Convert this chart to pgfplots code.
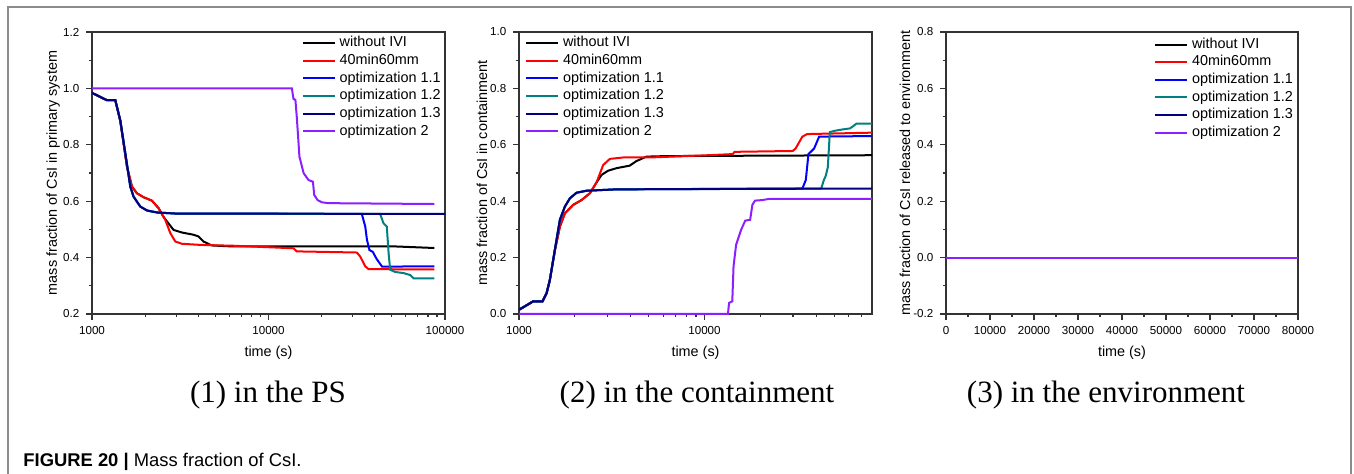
\documentclass[border=0pt]{standalone}
\usepackage{pgfplots}
\pgfplotsset{compat=1.18}
\usepackage{fontspec}
\setmainfont{Liberation Sans}
\newfontfamily\serifcap{Liberation Serif}

\definecolor{cBlack}{RGB}{0,0,0}
\definecolor{cRed}{RGB}{255,0,0}
\definecolor{cBlue}{RGB}{0,0,255}
\definecolor{cTeal}{RGB}{0,128,128}
\definecolor{cNavy}{RGB}{0,0,128}
\definecolor{cViolet}{RGB}{140,30,255}

% ---------- (1) primary system ----------
\pgfplotstableread{
t v
1000 0.984
1216 0.958
1355 0.958
1446 0.885
1578 0.722
1684 0.652
1797 0.628
1961 0.614
2185 0.602
2385 0.575
2520 0.548
2660 0.528
2900 0.498
3230 0.489
3760 0.481
4010 0.475
4280 0.457
4770 0.443
6000 0.440
20000 0.440
50000 0.440
87000 0.434
}\psBlack
\pgfplotstableread{
t v
1000 0.984
1216 0.958
1355 0.958
1446 0.885
1578 0.722
1684 0.652
1797 0.628
1961 0.614
2185 0.602
2385 0.575
2600 0.534
2776 0.487
2964 0.457
3230 0.449
4100 0.445
6340 0.442
9790 0.437
13860 0.433
14460 0.422
31650 0.418
33070 0.404
35330 0.369
36910 0.359
87000 0.358
}\psRed
\pgfplotstableread{
t v
1000 0.984
1216 0.958
1355 0.958
1446 0.887
1544 0.770
1648 0.652
1720 0.616
1877 0.581
2050 0.567
2333 0.560
3000 0.556
33770 0.555
35330 0.510
36130 0.463
37290 0.427
39000 0.420
41000 0.395
44000 0.368
87000 0.369
}\psOptA
\pgfplotstableread{
t v
1000 0.984
1216 0.958
1355 0.958
1446 0.887
1544 0.770
1648 0.652
1720 0.616
1877 0.581
2050 0.567
2333 0.560
3000 0.556
42900 0.555
44800 0.522
46800 0.510
47900 0.416
48900 0.357
52200 0.349
58300 0.345
63600 0.338
66400 0.326
87000 0.326
}\psOptB
\pgfplotstableread{
t v
1000 0.984
1216 0.958
1355 0.958
1446 0.887
1544 0.770
1648 0.652
1720 0.616
1877 0.581
2050 0.567
2333 0.560
3000 0.556
100000 0.555
}\psOptC
\pgfplotstableread{
t v
1000 1.000
13560 1.000
13860 0.962
14200 0.960
14460 0.899
14970 0.758
15820 0.699
16860 0.675
17850 0.669
18160 0.622
18970 0.604
20060 0.596
21900 0.593
87000 0.590
}\psOptD

% ---------- (2) containment ----------
\pgfplotstableread{
t v
1000 0.015
1194 0.045
1340 0.045
1409 0.074
1467 0.121
1561 0.225
1661 0.310
1768 0.357
1960 0.387
2173 0.404
2409 0.428
2615 0.466
2784 0.493
3020 0.508
3351 0.517
3950 0.526
4290 0.542
4860 0.558
6230 0.560
80000 0.563
}\ctBlack
\pgfplotstableread{
t v
1000 0.015
1194 0.045
1340 0.045
1409 0.074
1467 0.121
1561 0.225
1661 0.310
1768 0.357
1960 0.387
2173 0.404
2409 0.428
2615 0.466
2842 0.528
3088 0.550
3639 0.555
5061 0.555
10000 0.5625
14200 0.567
14520 0.575
29900 0.578
31000 0.587
33700 0.629
35800 0.638
80000 0.643
}\ctRed
\pgfplotstableread{
t v
1000 0.015
1194 0.045
1340 0.045
1409 0.074
1467 0.121
1561 0.228
1661 0.334
1768 0.381
1880 0.410
2042 0.430
2311 0.437
3351 0.442
33700 0.445
35170 0.475
36340 0.567
37400 0.575
39000 0.587
41500 0.629
80000 0.631
}\ctOptA
\pgfplotstableread{
t v
1000 0.015
1194 0.045
1340 0.045
1409 0.074
1467 0.121
1561 0.228
1661 0.334
1768 0.381
1880 0.410
2042 0.430
2311 0.437
3351 0.442
42600 0.445
44000 0.475
45000 0.489
46200 0.520
47400 0.645
50700 0.650
55000 0.654
60800 0.658
63000 0.665
65900 0.675
80000 0.675
}\ctOptB
\pgfplotstableread{
t v
1000 0.015
1194 0.045
1340 0.045
1409 0.074
1467 0.121
1561 0.228
1661 0.334
1768 0.381
1880 0.410
2042 0.430
2311 0.437
3351 0.442
80000 0.445
}\ctOptC
\pgfplotstableread{
t v
1000 0.000
13380 0.000
13560 0.039
14120 0.045
14340 0.169
14800 0.245
15740 0.298
16580 0.331
17620 0.334
18120 0.387
18710 0.402
20490 0.404
22270 0.408
80000 0.408
}\ctOptD

% ---------- (3) environment ----------
\pgfplotstableread{
t v
0 0
80000 0
}\envAll

\pgfplotsset{
  csipanel/.style={
    scale only axis, width=176.5pt, height=141pt, anchor=south west,
    clip=false,
    axis line style={black!80, line width=0.6pt},
    tick style={black!80, line width=0.6pt},
    tick align=outside, xtick pos=left, ytick pos=left,
    major tick length=2.8pt, minor tick length=1.7pt,
    tick label style={font=\fontsize{5.8}{6}\selectfont},
    label style={font=\fontsize{7.2}{8}\selectfont},
    every axis plot/.append style={line width=1pt},
    legend cell align=left,
  },
  legend image code/.code={\draw[#1, line width=1pt] (0pt,0pt) -- (16pt,0pt);},
  every axis legend/.append style={draw=none, fill=none, inner sep=0pt,
      row sep=0.9pt, column sep=1.2pt, nodes={inner sep=0.6pt},
      font=\fontsize{7.2}{8}\selectfont},
  /pgf/number format/assume math mode=true,
}

\begin{document}
\begin{tikzpicture}
\useasboundingbox (0pt,0pt) rectangle (677pt,237pt);
\draw[black!45, line width=0.7pt] (4pt,0pt) -- (4pt,233.5pt) -- (675.5pt,233.5pt) -- (675.5pt,0pt);

% (1) in the PS
\begin{axis}[csipanel, at={(46pt,80pt)}, xmode=log, xmin=1000, xmax=100000,
  xtick={1000,10000,100000}, xticklabels={1000,10000,100000},
  minor xtick={2000,3000,4000,5000,6000,7000,8000,9000,20000,30000,40000,50000,60000,70000,80000,90000},
  ymin=0.2, ymax=1.2, ytick={0.2,0.4,0.6,0.8,1.0,1.2}, minor ytick={0.3,0.5,0.7,0.9,1.1},
  yticklabels={0.2,0.4,0.6,0.8,1.0,1.2},
  xlabel={time (s)}, ylabel={mass fraction of CsI in primary system},
  xlabel style={at={(axis description cs:0.5,-0.138)}, anchor=center},
  ylabel style={at={(axis description cs:-0.11,0.5)}, anchor=center},
  legend style={at={(0.594,0.99)}, anchor=north west}]
\addplot[cBlack] table {\psBlack};
\addplot[cRed] table {\psRed};
\addplot[cBlue] table {\psOptA};
\addplot[cTeal] table {\psOptB};
\addplot[cNavy] table {\psOptC};
\addplot[cViolet] table {\psOptD};
\legend{without IVI,40min60mm,optimization 1.1,optimization 1.2,optimization 1.3,optimization 2}
\end{axis}

% (2) in the containment
\begin{axis}[csipanel, at={(259.5pt,80pt)}, xmode=log, xmin=1000, xmax=80000,
  xtick={1000,10000}, xticklabels={1000,10000},
  minor xtick={2000,3000,4000,5000,6000,7000,8000,9000,20000,30000,40000,50000,60000,70000},
  ymin=0, ymax=1.0, ytick={0,0.2,0.4,0.6,0.8,1.0}, minor ytick={0.1,0.3,0.5,0.7,0.9},
  yticklabels={0.0,0.2,0.4,0.6,0.8,1.0},
  xlabel={time (s)}, ylabel={mass fraction of CsI in containment},
  xlabel style={at={(axis description cs:0.5,-0.138)}, anchor=center},
  ylabel style={at={(axis description cs:-0.105,0.5)}, anchor=center},
  legend style={at={(0.017,0.99)}, anchor=north west}]
\addplot[cBlack] table {\ctBlack};
\addplot[cRed] table {\ctRed};
\addplot[cBlue] table {\ctOptA};
\addplot[cTeal] table {\ctOptB};
\addplot[cNavy] table {\ctOptC};
\addplot[cViolet] table {\ctOptD};
\legend{without IVI,40min60mm,optimization 1.1,optimization 1.2,optimization 1.3,optimization 2}
\end{axis}

% (3) in the environment
\begin{axis}[csipanel, at={(473pt,80pt)}, width=176pt,
  xmin=0, xmax=80000, xtick={0,10000,20000,30000,40000,50000,60000,70000,80000},
  xticklabels={0,10000,20000,30000,40000,50000,60000,70000,80000},
  scaled x ticks=false,
  minor xtick={5000,15000,25000,35000,45000,55000,65000,75000},
  ymin=-0.2, ymax=0.8, ytick={-0.2,0,0.2,0.4,0.6,0.8}, minor ytick={-0.1,0.1,0.3,0.5,0.7},
  yticklabels={-0.2,0.0,0.2,0.4,0.6,0.8},
  xlabel={time (s)}, ylabel={mass fraction of CsI released to environment},
  xlabel style={at={(axis description cs:0.5,-0.138)}, anchor=center},
  ylabel style={at={(axis description cs:-0.1165,0.5)}, anchor=center},
  legend style={at={(0.591,0.985)}, anchor=north west}]
\addplot[cBlack] table {\envAll};
\addplot[cRed] table {\envAll};
\addplot[cBlue] table {\envAll};
\addplot[cTeal] table {\envAll};
\addplot[cNavy] table {\envAll};
\addplot[cViolet] table {\envAll};
\legend{without IVI,40min60mm,optimization 1.1,optimization 1.2,optimization 1.3,optimization 2}
\end{axis}

% panel captions
\node[font=\serifcap\fontsize{15.5}{17}\selectfont] at (134pt,39.5pt) {(1) in the PS};
\node[font=\serifcap\fontsize{15.5}{17}\selectfont] at (348.5pt,39.5pt) {(2) in the containment};
\node[font=\serifcap\fontsize{15.5}{17}\selectfont] at (553pt,39.5pt) {(3) in the environment};

% figure caption
\node[anchor=west, inner sep=0pt, font=\fontsize{9.2}{11}\selectfont] at (11.5pt,6pt)
  {\textbf{FIGURE 20 |} Mass fraction of CsI.};
\end{tikzpicture}
\end{document}
